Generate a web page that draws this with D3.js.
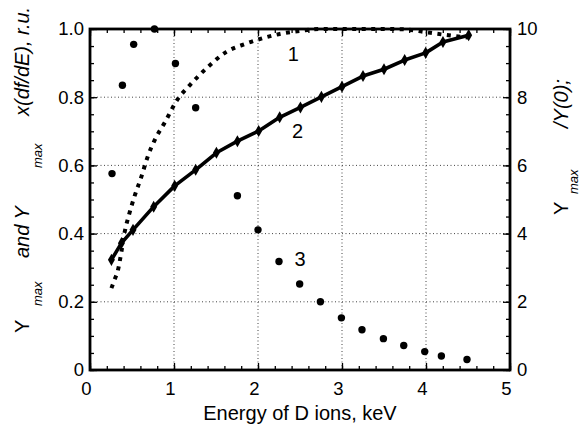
<!DOCTYPE html>
<html>
<head>
<meta charset="utf-8">
<script src="https://cdn.jsdelivr.net/npm/d3@7"></script>
<style>
  body { margin: 0; background: #fff; }
  svg { display: block; font-family: "Liberation Sans", Arial, sans-serif; }
  .grid line { stroke: #444; stroke-width: 1; stroke-dasharray: 1,2.5; }
  .tick text { font-size: 18.5px; fill: #000; }
  .tick line { stroke: #000; stroke-width: 1.3; }
</style>
</head>
<body>
<div id="chart"></div>
<script>
// ---- data ----
// curve 1: dotted, left axis
var curve1E = [0.255, 0.294, 0.333, 0.374, 0.41, 0.464, 0.532, 0.612, 0.683, 0.77, 0.898, 1.02, 1.202, 1.405, 1.624, 1.845, 2.071, 2.29, 2.52, 2.75, 3.0, 3.25, 3.5, 3.75, 3.96, 4.19, 4.5];
var curve1Y = [0.240, 0.266, 0.293, 0.347, 0.401, 0.455, 0.511, 0.567, 0.623, 0.674, 0.729, 0.785, 0.839, 0.889, 0.933, 0.956, 0.974, 0.987, 0.995, 1.0, 1.0, 1.0, 1.0, 0.999, 0.992, 0.984, 0.975];

// curve 2: solid line with diamonds, left axis
var curve2E = [0.255, 0.374, 0.512, 0.758, 1.008, 1.258, 1.505, 1.755, 2.008, 2.258, 2.505, 2.755, 3.0, 3.25, 3.5, 3.746, 3.996, 4.202, 4.508];
var curve2Y = [0.323, 0.372, 0.411, 0.479, 0.540, 0.587, 0.637, 0.671, 0.701, 0.741, 0.770, 0.801, 0.831, 0.862, 0.882, 0.909, 0.930, 0.962, 0.982];

// curve 3: dots, right axis (Ymax/Y(0))
var curve3E = [0.262, 0.386, 0.52, 0.767, 1.017, 1.258, 1.755, 2.0, 2.25, 2.496, 2.743, 2.993, 3.238, 3.493, 3.735, 3.985, 4.183, 4.488];
var curve3Y = [5.76, 8.35, 9.55, 10.0, 8.99, 7.69, 5.11, 4.11, 3.18, 2.52, 2.0, 1.53, 1.18, 0.92, 0.72, 0.54, 0.41, 0.31];

var xTicks = [0, 1, 2, 3, 4, 5];
var yTicks = [0, 0.2, 0.4, 0.6, 0.8, 1.0];
var yRightTicks = [0, 2, 4, 6, 8, 10];
var curveLabels = [{text: "1", e: 2.42, v: 0.905}, {text: "2", e: 2.47, v: 0.68}, {text: "3", e: 2.5, v: 0.305}];

// ---- layout ----
var W = 583, H = 428;
var plot = {left: 90, right: 510, top: 29, bottom: 370};

var svg = d3.select("#chart").append("svg").attr("width", W).attr("height", H);

var x = d3.scaleLinear().domain([0, 5]).range([plot.left, plot.right]);
var y = d3.scaleLinear().domain([0, 1]).range([plot.bottom, plot.top]);
var yR = d3.scaleLinear().domain([0, 10]).range([plot.bottom, plot.top]);

function zip(a, b) { return a.map(function (d, i) { return [d, b[i]]; }); }

// -- grid
var grid = svg.append("g").attr("class", "grid");
grid.selectAll(".gx").data(xTicks.slice(1, -1)).enter().append("line")
  .attr("x1", function (d) { return x(d); }).attr("x2", function (d) { return x(d); })
  .attr("y1", plot.top).attr("y2", plot.bottom);
grid.selectAll(".gy").data(yTicks.slice(1, -1)).enter().append("line")
  .attr("y1", function (d) { return y(d); }).attr("y2", function (d) { return y(d); })
  .attr("x1", plot.left).attr("x2", plot.right);

// -- axes (inward ticks)
var minorX = d3.range(0, 5.001, 0.2).map(function (d) { return +d.toFixed(2); });
var minorY = d3.range(0, 1.0001, 0.05).map(function (d) { return +d.toFixed(2); });

function addAxis(axis, tx, ty) {
  var g = svg.append("g").attr("transform", "translate(" + tx + "," + ty + ")").call(axis);
  g.select(".domain").remove();
  return g;
}

addAxis(d3.axisBottom(x).tickValues(minorX).tickSize(-4).tickFormat(""), 0, plot.bottom);
addAxis(d3.axisTop(x).tickValues(minorX).tickSize(-4).tickFormat(""), 0, plot.top);
addAxis(d3.axisLeft(y).tickValues(minorY).tickSize(-4).tickFormat(""), plot.left, 0);
addAxis(d3.axisRight(y).tickValues(minorY).tickSize(-4).tickFormat(""), plot.right, 0);

var xAx = addAxis(d3.axisBottom(x).tickValues(xTicks).tickSize(-7).tickPadding(12).tickFormat(d3.format("d")), 0, plot.bottom);
xAx.selectAll("text").attr("dx", -4);
addAxis(d3.axisTop(x).tickValues(xTicks).tickSize(-7).tickFormat(""), 0, plot.top);
addAxis(d3.axisLeft(y).tickValues(yTicks).tickSize(-7).tickPadding(6)
  .tickFormat(function (d) { return d === 0 ? "0" : d3.format(".1f")(d); }), plot.left, 0);
addAxis(d3.axisRight(yR).tickValues(yRightTicks).tickSize(-7).tickPadding(7).tickFormat(d3.format("d")), plot.right, 0);

// -- frame
svg.append("rect")
  .attr("x", plot.left).attr("y", plot.top)
  .attr("width", plot.right - plot.left).attr("height", plot.bottom - plot.top)
  .attr("fill", "none").attr("stroke", "#000").attr("stroke-width", 2.8);

// -- curve 1 (dotted squares)
var line1 = d3.line().curve(d3.curveMonotoneX)
  .x(function (d) { return x(d[0]); }).y(function (d) { return y(d[1]); });
svg.append("path").datum(zip(curve1E, curve1Y))
  .attr("d", line1).attr("fill", "none").attr("stroke", "#000")
  .attr("stroke-width", 4).attr("stroke-dasharray", "4,5.5");

// -- curve 2 (solid + diamonds)
var line2 = d3.line()
  .x(function (d) { return x(d[0]); }).y(function (d) { return y(d[1]); });
var c2 = zip(curve2E, curve2Y);
svg.append("path").datum(c2)
  .attr("d", line2).attr("fill", "none").attr("stroke", "#000")
  .attr("stroke-width", 3.6).attr("stroke-linejoin", "round");
svg.selectAll(".diamond").data(c2).enter().append("path")
  .attr("class", "diamond")
  .attr("d", d3.symbol(d3.symbolDiamond).size(42))
  .attr("transform", function (d) { return "translate(" + x(d[0]) + "," + y(d[1]) + ")"; })
  .attr("fill", "#000");

// -- curve 3 (dots, right axis)
svg.selectAll(".dot").data(zip(curve3E, curve3Y)).enter().append("circle")
  .attr("class", "dot")
  .attr("cx", function (d) { return x(d[0]); })
  .attr("cy", function (d) { return yR(d[1]); })
  .attr("r", 3.7).attr("fill", "#000");

// -- curve labels
svg.selectAll(".clabel").data(curveLabels).enter().append("text")
  .attr("class", "clabel")
  .attr("x", function (d) { return x(d.e); })
  .attr("y", function (d) { return y(d.v); })
  .attr("text-anchor", "middle")
  .style("font-size", "20px")
  .text(function (d) { return d.text; });

// -- x title
svg.append("text")
  .attr("x", 300).attr("y", 419.5)
  .attr("text-anchor", "middle")
  .style("font-size", "20px")
  .text("Energy of D ions, keV");

// -- rotated y titles, each piece placed along the axis
function vpiece(px, py, txt, size, italic) {
  svg.append("text")
    .attr("transform", "translate(" + px + "," + py + ") rotate(-90)")
    .style("font-size", size + "px")
    .style("font-style", italic ? "italic" : "normal")
    .text(txt);
}
vpiece(29, 333, "Y", 20, false);
vpiece(42, 306, "max", 13, true);
vpiece(29, 258, "and Y", 20, true);
vpiece(42, 168, "max", 13, true);
vpiece(29, 116, "x(df/dE),", 20, true);
vpiece(29, 35, "r.u.", 20, true);

vpiece(568, 215, "Y", 20, false);
vpiece(578, 194, "max", 13, true);
vpiece(568, 128, "/Y(0);", 20, true);
</script>
</body>
</html>
